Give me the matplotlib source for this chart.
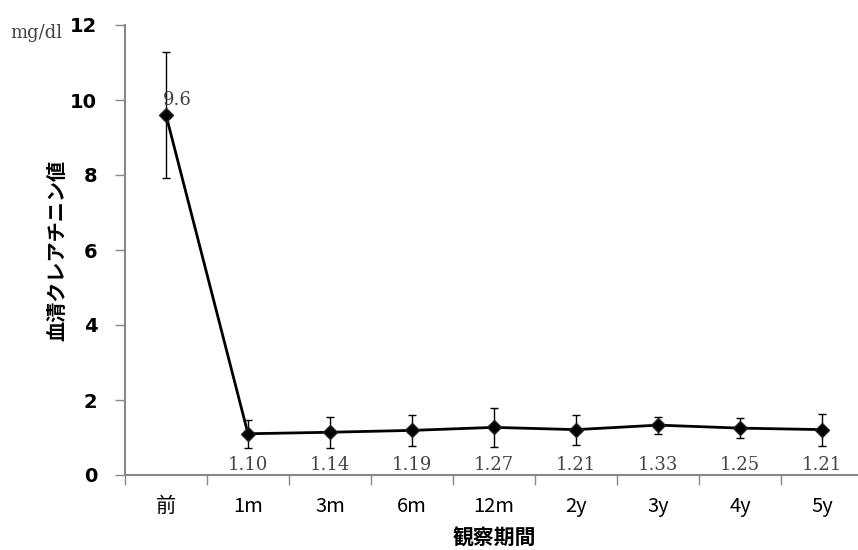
import numpy as np
import matplotlib
matplotlib.use("Agg")
import matplotlib.pyplot as plt

# data
periods = ['前', '1m', '3m', '6m', '12m', '2y', '3y', '4y', '5y']
means = [9.6, 1.10, 1.14, 1.19, 1.27, 1.21, 1.33, 1.25, 1.21]
errs = [1.68, 0.38, 0.42, 0.41, 0.53, 0.40, 0.23, 0.27, 0.43]
labels = ['9.6', '1.10', '1.14', '1.19', '1.27', '1.21', '1.33', '1.25', '1.21']

jp = ['Noto Sans CJK JP', 'DejaVu Sans']
serif = ['DejaVu Serif']

fig = plt.figure(figsize=(8.58, 5.5), dpi=100)
ax = fig.add_axes([125/858, 75/550, 738/858, 450/550])

x = np.arange(len(periods))
ax.errorbar(x, means, yerr=errs, fmt='none', ecolor='black', elinewidth=1,
            capsize=3, capthick=1, zorder=2)
ax.plot(x, means, color='black', lw=2, marker='D', markersize=7,
        markerfacecolor='black', markeredgecolor='#222222', zorder=3)

# value labels
ax.annotate(labels[0], (x[0], means[0]), xytext=(11, 15), textcoords='offset pixels',
            ha='center', va='center', fontsize=13, family=serif, color='#444444')
for i in range(1, len(periods)):
    ax.text(x[i], 0.27, labels[i], ha='center', va='center', fontsize=13,
            family=serif, color='#444444')

ax.set_xlim(-0.5, len(periods) - 0.5)
ax.set_ylim(0, 12)
ax.set_yticks(np.arange(0, 13, 2))
ax.set_yticklabels([str(v) for v in range(0, 13, 2)], fontsize=14, fontweight='bold')

ax.set_xticks(np.arange(-0.5, len(periods), 1))
ax.set_xticklabels([])
ax.set_xticks(x, minor=True)
ax.set_xticklabels(periods, minor=True, fontsize=14.5, family=jp)
ax.tick_params(axis='x', which='minor', length=0, pad=15)
ax.tick_params(axis='x', which='major', length=7, width=1, color='#888888')
ax.tick_params(axis='y', length=7, width=1, color='#888888', pad=13)

for s in ['top', 'right']:
    ax.spines[s].set_visible(False)
for s in ['left', 'bottom']:
    ax.spines[s].set_color('#888888')
    ax.spines[s].set_linewidth(1.5)

ax.set_xlabel('観察期間', fontsize=15, fontweight='bold', family=jp, labelpad=8)
ax.set_ylabel('血清クレアチニン値', fontsize=14.5, fontweight='bold', family=jp, labelpad=2)

fig.text(10/858, 1 - 33/550, 'mg/dl', fontsize=13, family=serif, color='#444444',
         ha='left', va='center')

fig.savefig('out.png', dpi=100)
